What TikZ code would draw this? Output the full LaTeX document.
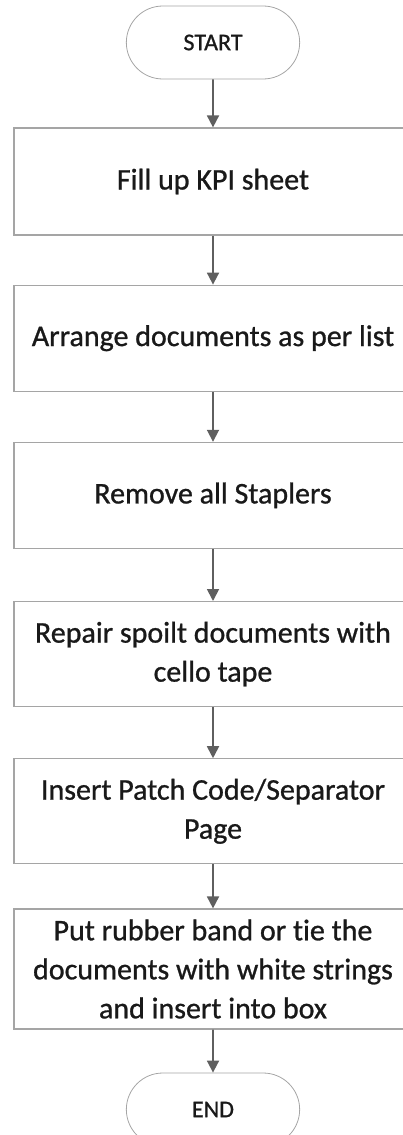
\documentclass[tikz,border=0pt]{standalone}
\usepackage{fontspec}
\setmainfont{Carlito}[Ligatures=NoCommon, FakeBold=0.9]
\newfontface\stepfont{Carlito}[Ligatures=NoCommon, FakeBold=0.9]
\usetikzlibrary{shapes,arrows.meta,positioning,calc}

\definecolor{boxline}{RGB}{165,165,165}
\definecolor{arrowgray}{RGB}{95,95,95}
\definecolor{textdark}{RGB}{25,25,25}

\begin{document}
\begin{tikzpicture}[
    x=1pt, y=1pt,
    node distance=49pt,
    terminal/.style={rounded rectangle, draw=boxline, line width=0.8pt, minimum width=180pt, minimum height=73pt, font=\stepfont\fontsize{24}{28}\selectfont, text=textdark},
    process/.style={rectangle, draw=boxline, line width=1.2pt, minimum width=398pt, minimum height=106pt, align=center, inner sep=0pt, font=\stepfont\fontsize{30}{39}\selectfont, text=textdark},
    arrow/.style={-{Triangle[length=12pt,width=12pt]}, draw=arrowgray, line width=1.8pt}
]
\useasboundingbox (0,0) rectangle (403,-1135);

% Terminals and steps
\node[terminal] (start) at (213,-42.5) {START};
\node[process, below=48pt of start, minimum height=107pt] (kpi) {Fill up KPI sheet};
\node[process, below=49pt of kpi] (arrange) {Arrange documents as per list};
\node[process, below=50pt of arrange] (staplers) {Remove all Staplers};
\node[process, below=52pt of staplers, minimum height=105pt] (repair) {Repair spoilt documents with\\cello tape};
\node[process, below=51pt of repair, minimum height=105pt] (patch) {Insert Patch Code/Separator\\Page};
\node[process, below=44pt of patch, minimum height=120pt] (band) {Put rubber band or tie the\\documents with white strings\\and insert into box};
\node[terminal, below=43pt of band] (end) {END};

% Connections
\draw[arrow] (start) -- (kpi);
\draw[arrow] (kpi) -- (arrange);
\draw[arrow] (arrange) -- (staplers);
\draw[arrow] (staplers) -- (repair);
\draw[arrow] (repair) -- (patch);
\draw[arrow] (patch) -- (band);
\draw[arrow] (band) -- (end);

\end{tikzpicture}
\end{document}
